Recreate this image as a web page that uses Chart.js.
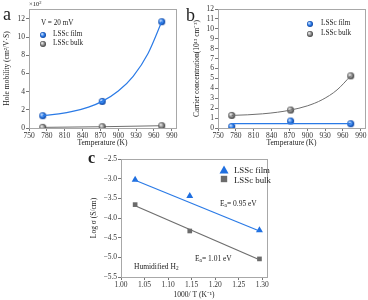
<!DOCTYPE html>
<html><head><meta charset="utf-8">
<script src="https://cdn.jsdelivr.net/npm/chart.js@4"></script>
<style>
html,body{margin:0;padding:0;background:#fff;}
#wrap{position:relative;width:368px;height:300px;overflow:hidden;font-family:'Liberation Serif',serif;color:#222;}
#wrap canvas.ch{position:absolute;left:0;top:0;}
.t{position:absolute;white-space:nowrap;line-height:1;}
.mk{position:absolute;}
sub{font-size:70%;vertical-align:-0.25em;line-height:0;}
sup{font-size:70%;vertical-align:0.45em;line-height:0;}
</style>
</head><body>
<div id="wrap">
<canvas id="ca" class="ch" width="368" height="300"></canvas>
<canvas id="cb" class="ch" width="368" height="300"></canvas>
<canvas id="cc" class="ch" width="368" height="300"></canvas>
</div>
<script>
// ---- data ----
const tempA = [773, 873, 973];
const mobilityFilm = [1.35, 2.93, 11.7];
const mobilityBulk = [0.07, 0.14, 0.25];
// fitted curve of the film mobility
const mobilityFitT = [773, 800, 825, 850, 873, 900, 925, 950, 973];
const mobilityFitY = [1.35, 1.55, 1.85, 2.30, 2.93, 4.07, 5.69, 8.21, 11.7];
const tempB = [773, 872, 973];
const carrierFilm = [0.15, 0.70, 0.43];
const carrierBulk = [1.27, 1.81, 5.26];
const carrierFilmFitX = [773, 973];
const carrierFilmFitY = [0.45, 0.45];
// fitted curve of the bulk carrier concentration
const carrierFitT = [773, 800, 825, 850, 872, 900, 925, 950, 973];
const carrierFitY = [1.27, 1.33, 1.43, 1.59, 1.81, 2.23, 2.85, 3.84, 5.26];
const invT = [1.030, 1.146, 1.294];
const logSigmaFilm = [-3.03, -3.44, -4.31];
const logSigmaBulk = [-3.66, -4.33, -5.04];
const fitX = [1.030, 1.294];
const fitFilmY = [-3.04, -4.33];
const fitBulkY = [-3.69, -5.06];
const tempTicks = [750, 780, 810, 840, 870, 900, 930, 960, 990];
const mobilityTicks = [0, 2, 4, 6, 8, 10, 12];
const carrierTicks = [0, 1, 2, 3, 4, 5, 6, 7, 8, 9, 10, 11, 12];
const invTTicks = [1.00, 1.05, 1.10, 1.15, 1.20, 1.25, 1.30];
const logTicks = [-2.5, -3.0, -3.5, -4.0, -4.5, -5.0, -5.5];

const BLUE = '#2a7ae6', GRAY = '#6e6e6e';
const pts = (xs, ys) => xs.map((x, i) => ({x: x, y: ys[i]}));

function sphere(light, base, dark, r) {
  const c = document.createElement('canvas');
  const s = Math.ceil(2 * r + 2);
  c.width = c.height = s;
  const g = c.getContext('2d');
  const cx = s / 2, cy = s / 2;
  const grad = g.createRadialGradient(cx - r * 0.35, cy - r * 0.35, r * 0.1, cx, cy, r);
  grad.addColorStop(0, light); grad.addColorStop(0.55, base); grad.addColorStop(1, dark);
  g.fillStyle = grad; g.beginPath(); g.arc(cx, cy, r, 0, Math.PI * 2); g.fill();
  return c;
}
const blueBall = (r) => sphere('#cfe3ff', '#2a7ae6', '#0b3f9a', r || 3.5);
const grayBall = (r) => sphere('#f0f0f0', '#8a8a8a', '#3a3a3a', r || 3.5);

Chart.defaults.font.family = "'Liberation Serif', serif";
Chart.defaults.color = '#222';

const framePlugin = {
  id: 'frame',
  beforeDatasetsDraw(chart) {
    const a = chart.chartArea, ctx = chart.ctx;
    ctx.save(); ctx.strokeStyle = '#a8a8a8'; ctx.lineWidth = 1;
    ctx.strokeRect(Math.round(a.left) + 0.5, Math.round(a.top) + 0.5, Math.round(a.right - a.left), Math.round(a.bottom - a.top));
    ctx.restore();
  }
};

function make(id, datasets, c) {
  const area = c.area;
  return new Chart(document.getElementById(id), {
    type: 'scatter',
    data: {datasets: datasets},
    plugins: [framePlugin],
    options: {
      responsive: false, animation: false, events: [],
      layout: {autoPadding: false, padding: {left: area.l - c.yW, top: area.t, right: 368 - area.r, bottom: 300 - area.b - c.xH}},
      plugins: {legend: {display: false}, tooltip: {enabled: false}},
      scales: {
        x: {
          type: 'linear', min: c.xmin, max: c.xmax,
          afterBuildTicks: s => { s.ticks = c.xticks.map(v => ({value: v})); },
          afterFit: s => { s.height = c.xH; },
          border: {display: false},
          grid: {drawOnChartArea: false, tickLength: 3, color: '#777'},
          ticks: {font: {size: c.tickSize}, padding: 1, maxRotation: 0, autoSkip: false, callback: c.xfmt, color: '#333'},
          title: {display: true, text: c.xTitle, font: {size: 7.5}, padding: {top: 0, bottom: c.xTitlePad}, color: '#222'}
        },
        y: {
          type: 'linear', min: c.ymin, max: c.ymax,
          afterBuildTicks: s => { s.ticks = c.yticks.map(v => ({value: v})); },
          afterFit: s => { s.width = c.yW; },
          border: {display: false},
          grid: {drawOnChartArea: false, tickLength: 3, color: '#777'},
          ticks: {font: {size: c.tickSize}, padding: 1, autoSkip: false, callback: c.yfmt, color: '#333'},
          title: {display: true, text: c.yTitle, font: {size: 7.5}, padding: {top: c.yTitlePad, bottom: 0}, color: '#222'}
        }
      }
    }
  });
}

// ---- panel a ----
make('ca', [
  {data: pts(mobilityFitT, mobilityFitY), showLine: true, cubicInterpolationMode: 'monotone', borderColor: BLUE, borderWidth: 1.2, pointRadius: 0},
  {data: pts(tempA, mobilityBulk), showLine: true, borderColor: GRAY, borderWidth: 1, pointStyle: grayBall(), pointRadius: 3.5},
  {data: pts(tempA, mobilityFilm), showLine: false, pointStyle: blueBall(), pointRadius: 3.5}
], {area: {l: 29, t: 9, r: 176, b: 128}, yW: 29, xH: 22, xmin: 750, xmax: 997, ymin: 0, ymax: 13.1,
  xticks: tempTicks, yticks: mobilityTicks, xfmt: v => String(v), yfmt: v => String(v), tickSize: 7.5,
  xTitle: 'Temperature (K)', yTitle: 'Hole mobility (cm²/V·S)', xTitlePad: 2, yTitlePad: 3});

// ---- panel b ----
make('cb', [
  {data: pts(carrierFilmFitX, carrierFilmFitY), showLine: true, borderColor: BLUE, borderWidth: 1.2, pointRadius: 0},
  {data: pts(carrierFitT, carrierFitY), showLine: true, cubicInterpolationMode: 'monotone', borderColor: GRAY, borderWidth: 1, pointRadius: 0},
  {data: pts(tempB, carrierFilm), showLine: false, pointStyle: blueBall(), pointRadius: 3.5},
  {data: pts(tempB, carrierBulk), showLine: false, pointStyle: grayBall(), pointRadius: 3.5}
], {area: {l: 218, t: 9, r: 365, b: 128}, yW: 27, xH: 22, xmin: 750, xmax: 997, ymin: 0, ymax: 12,
  xticks: tempTicks, yticks: carrierTicks, xfmt: v => String(v), yfmt: v => String(v), tickSize: 7.5,
  xTitle: 'Temperature (K)', yTitle: 'Carrier concentration(10¹³ cm⁻³)', xTitlePad: 2, yTitlePad: 2});

// ---- panel c ----
make('cc', [
  {data: pts(fitX, fitFilmY), showLine: true, borderColor: BLUE, borderWidth: 1.2, pointRadius: 0},
  {data: pts(fitX, fitBulkY), showLine: true, borderColor: GRAY, borderWidth: 1.2, pointRadius: 0},
  {data: pts(invT, logSigmaFilm), showLine: false, pointStyle: 'triangle', pointRadius: 4, backgroundColor: '#1f6fe0', borderColor: '#1f6fe0', borderWidth: 0},
  {data: pts(invT, logSigmaBulk), showLine: false, pointStyle: 'rect', pointRadius: 3.3, backgroundColor: '#6b6b6b', borderColor: '#6b6b6b', borderWidth: 0}
], {area: {l: 121, t: 159, r: 267, b: 277}, yW: 33, xH: 23, xmin: 1.0, xmax: 1.31, ymin: -5.5, ymax: -2.5,
  xticks: invTTicks, yticks: logTicks, xfmt: v => v.toFixed(2), yfmt: v => v.toFixed(1).replace('-', '−'), tickSize: 7.5,
  xTitle: '1000/ T (K⁻¹)', yTitle: 'Log σ (S/cm)', xTitlePad: 0, yTitlePad: 2});

// ---- text overlays ----
const wrap = document.getElementById('wrap');
function txt(html, x, yc, size, extra) {
  const d = document.createElement('div');
  d.className = 't'; d.innerHTML = html;
  d.style.left = x + 'px'; d.style.fontSize = size + 'px';
  d.style.top = (yc - size * 0.5) + 'px';
  if (extra) Object.assign(d.style, extra);
  wrap.appendChild(d);
}
function ball(cnv, x, y) {
  cnv.className = 'mk';
  cnv.style.left = (x - cnv.width / 2) + 'px'; cnv.style.top = (y - cnv.height / 2) + 'px';
  wrap.appendChild(cnv);
}
function shape(kind, x, y, color) {
  const c = document.createElement('canvas'); c.width = c.height = 12;
  const g = c.getContext('2d'); g.fillStyle = color; g.beginPath();
  if (kind === 'tri') { g.moveTo(6, 1.5); g.lineTo(10.5, 9.5); g.lineTo(1.5, 9.5); }
  else { g.rect(2.8, 2.8, 6.4, 6.4); }
  g.fill();
  c.className = 'mk'; c.style.left = (x - 6) + 'px'; c.style.top = (y - 6) + 'px';
  wrap.appendChild(c);
}

txt('a', 3, 14, 18);
txt('×10<sup>2</sup>', 29, 4, 6.5);
txt('V = 20 mV', 41, 24, 7.2);
ball(blueBall(3), 43, 35); txt('LSSc film', 53, 35, 7.2);
ball(grayBall(3), 43, 44); txt('LSSc bulk', 53, 44, 7.2);

txt('b', 186, 15, 18);
ball(blueBall(3), 310, 24); txt('LSSc film', 321, 24, 7.2);
ball(grayBall(3), 310, 34); txt('LSSc bulk', 321, 34, 7.2);

txt('c', 88, 158, 16, {fontWeight: 'bold'});
shape('tri', 224, 170, '#1f6fe0'); txt('LSSc film', 234, 170, 8.8);
shape('sq', 224, 179, '#6b6b6b'); txt('LSSc bulk', 234, 180, 8.8);
txt('E<sub>a</sub>= 0.95 eV', 220, 204, 7.5);
txt('E<sub>a</sub>= 1.01 eV', 195, 259, 7.5);
txt('Humidified H<sub>2</sub>', 134, 267, 7.5);
</script>
</body></html>
